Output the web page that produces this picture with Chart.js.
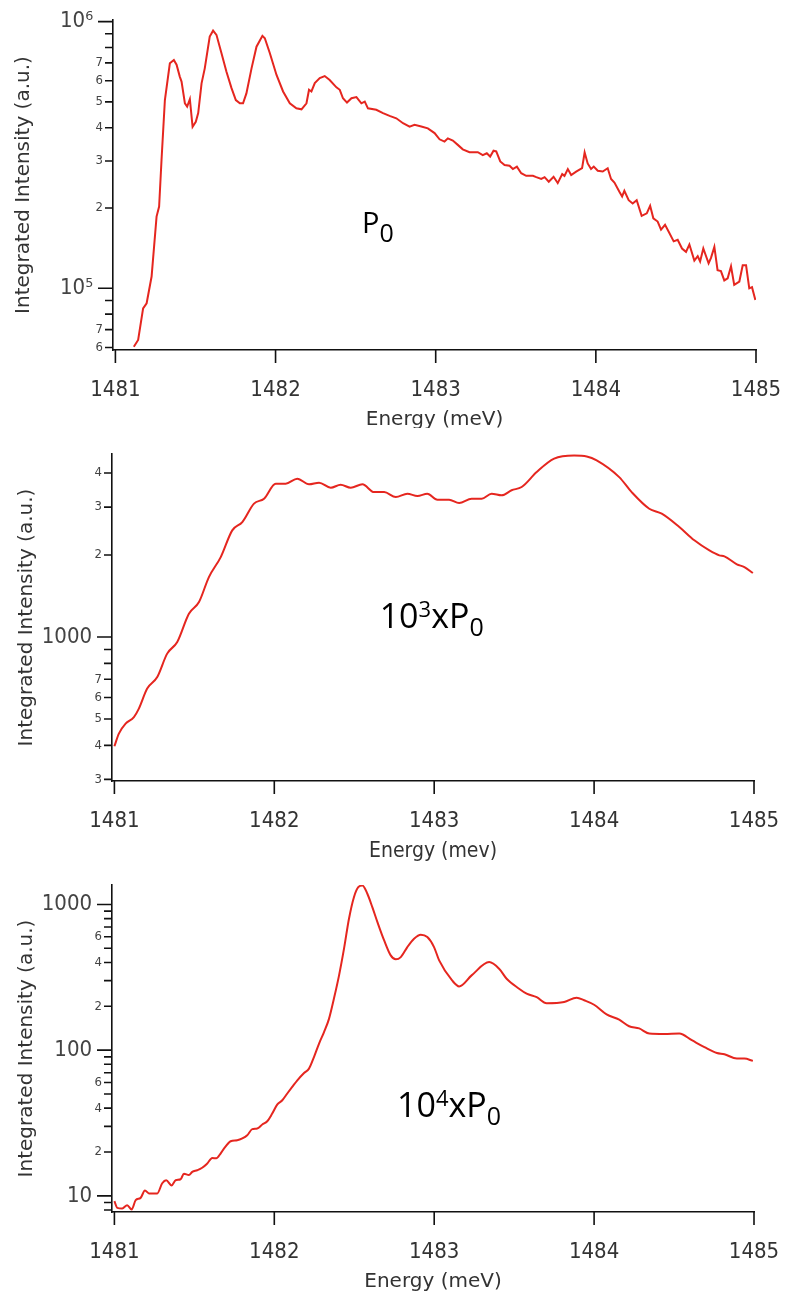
<!DOCTYPE html>
<html><head><meta charset="utf-8">
<script src="https://cdn.jsdelivr.net/npm/chart.js@4.4.1/dist/chart.umd.min.js"></script>
<style>
html,body{margin:0;padding:0;background:#fff;width:787px;height:1295px;overflow:hidden;position:relative}
canvas{position:absolute;left:0}
</style></head><body>
<canvas id="c1" width="787" height="428" style="top:0px"></canvas>
<canvas id="c2" width="787" height="440" style="top:428px"></canvas>
<canvas id="c3" width="787" height="427" style="top:868px"></canvas>
<script>
// ---------- data: P0 ----------
const energyP0 = [1481.115,1481.142,1481.173,1481.195,1481.226,1481.257,1481.273,1481.288,1481.309,1481.340,1481.365,1481.382,1481.402,1481.413,1481.434,1481.448,1481.465,1481.482,1481.502,1481.517,1481.538,1481.558,1481.589,1481.610,1481.631,1481.662,1481.693,1481.725,1481.752,1481.777,1481.797,1481.818,1481.850,1481.881,1481.918,1481.933,1481.964,1482.006,1482.047,1482.089,1482.130,1482.162,1482.193,1482.209,1482.224,1482.245,1482.276,1482.307,1482.338,1482.380,1482.401,1482.421,1482.446,1482.474,1482.505,1482.536,1482.557,1482.577,1482.629,1482.671,1482.712,1482.754,1482.796,1482.837,1482.868,1482.910,1482.951,1482.993,1483.024,1483.055,1483.076,1483.107,1483.138,1483.169,1483.211,1483.263,1483.294,1483.319,1483.340,1483.361,1483.378,1483.403,1483.430,1483.461,1483.482,1483.507,1483.534,1483.565,1483.607,1483.628,1483.659,1483.680,1483.706,1483.736,1483.762,1483.790,1483.804,1483.825,1483.846,1483.877,1483.914,1483.930,1483.949,1483.970,1483.987,1484.012,1484.043,1484.074,1484.095,1484.116,1484.147,1484.164,1484.178,1484.205,1484.230,1484.255,1484.286,1484.318,1484.339,1484.359,1484.386,1484.407,1484.432,1484.455,1484.486,1484.511,1484.538,1484.563,1484.584,1484.615,1484.636,1484.651,1484.671,1484.704,1484.719,1484.740,1484.760,1484.781,1484.802,1484.823,1484.844,1484.864,1484.896,1484.917,1484.938,1484.958,1484.975,1484.996];
const intensityP0 = [60400,64000,84100,87900,110700,185800,202500,302700,508000,698000,718000,689000,622000,596000,494000,480000,512000,403000,421000,454000,587000,668000,879000,925000,892000,763000,650000,563000,508000,494000,494000,538000,668000,805000,884000,866000,763000,631000,547000,494000,473000,469000,494000,555000,547000,588000,614000,625000,604000,567000,555000,516000,497000,516000,521000,494000,501000,473000,467000,454000,443000,434000,416000,404000,410000,404000,398000,382000,362000,355000,365000,358000,345000,332000,324000,324000,316000,321000,312000,328000,326000,299000,290000,288000,280000,286000,270000,264000,264000,261000,257000,261000,251000,262000,248000,268000,264000,280000,266000,274000,282000,323000,294000,280000,286000,276000,274000,282000,257000,249000,230000,221000,232000,214000,208000,214000,187000,191000,204000,183000,178000,166000,173000,163000,150000,152000,141000,137000,146000,127000,132000,126000,141000,124000,130000,143000,117000,116000,107000,109000,121000,103000,106000,122000,122000,100000,101000,90400];

// ---------- data: 10^3 x P0 ----------
const energy1e3 = [1481.000,1481.028,1481.070,1481.122,1481.153,1481.205,1481.268,1481.330,1481.393,1481.466,1481.529,1481.591,1481.665,1481.737,1481.800,1481.873,1481.936,1482.009,1482.071,1482.144,1482.217,1482.280,1482.353,1482.415,1482.478,1482.551,1482.624,1482.687,1482.760,1482.832,1482.895,1482.957,1483.020,1483.093,1483.156,1483.234,1483.297,1483.359,1483.422,1483.484,1483.547,1483.641,1483.750,1483.875,1483.954,1484.016,1484.157,1484.235,1484.345,1484.423,1484.533,1484.627,1484.721,1484.783,1484.815,1484.893,1484.940,1484.993];
const intensity1e3 = [397,442,481,508,546,647,713,869,959,1218,1344,1660,1966,2464,2643,3090,3222,3657,3657,3814,3637,3689,3533,3625,3533,3637,3405,3405,3266,3359,3296,3359,3193,3193,3105,3222,3222,3359,3313,3459,3555,4036,4518,4640,4603,4454,3866,3405,2959,2838,2535,2265,2080,1995,1978,1849,1807,1718];

// ---------- data: 10^4 x P0 ----------
const energy1e4 = [1481.000,1481.018,1481.049,1481.080,1481.108,1481.133,1481.164,1481.191,1481.216,1481.268,1481.299,1481.324,1481.358,1481.383,1481.414,1481.435,1481.466,1481.487,1481.518,1481.549,1481.581,1481.612,1481.637,1481.665,1481.685,1481.727,1481.768,1481.800,1481.831,1481.862,1481.893,1481.925,1481.956,1481.987,1482.019,1482.050,1482.081,1482.112,1482.144,1482.186,1482.217,1482.248,1482.280,1482.311,1482.342,1482.373,1482.405,1482.436,1482.467,1482.498,1482.525,1482.551,1482.582,1482.613,1482.645,1482.687,1482.728,1482.760,1482.791,1482.832,1482.874,1482.916,1482.957,1482.999,1483.031,1483.112,1483.156,1483.234,1483.344,1483.406,1483.453,1483.531,1483.578,1483.641,1483.703,1483.813,1483.891,1483.938,1484.000,1484.078,1484.157,1484.219,1484.282,1484.345,1484.439,1484.533,1484.611,1484.690,1484.768,1484.815,1484.893,1484.940,1484.993];
const intensity1e4 = [9.2,8.28,8.2,8.63,8.07,9.35,9.69,10.9,10.4,10.4,12.2,12.8,11.8,12.8,13.0,14.2,13.9,14.6,15.0,15.6,16.7,18.2,18.1,19.6,21.1,23.7,24.1,24.8,26.1,28.7,29.0,30.9,32.5,36.7,42.4,45.3,50.4,55.9,62.1,69.7,74.7,89.7,111,133,164,226,326,497,798,1122,1314,1349,1184,958,756,566,447,420,435,510,582,620,597,510,413,301,274,326,402,362,309,264,244,231,210,214,229,220,205,176,162,146,141,130,129,130,117,105,95.7,93.8,87.5,87.5,84.4];

// ---------- ticks ----------
const xTicks = [1481,1482,1483,1484,1485];
const xTickLabels = ['1481','1482','1483','1484','1485'];
const yTicksP0 = [1e6,9e5,8e5,7e5,6e5,5e5,4e5,3e5,2e5,1e5,9e4,8e4,7e4,6e4];
const yTickLabelsP0 = ['10\u2076','','','7','6','5','4','3','2','10\u2075','','','7','6'];
const yTicks1e3 = [4000,3000,2000,1000,900,800,700,600,500,400,300];
const yTickLabels1e3 = ['4','3','2','1000','','','7','6','5','4','3'];
const yTicks1e4 = [1000,900,800,700,600,500,400,300,200,100,90,80,70,60,50,40,30,20,10,9,8];
const yTickLabels1e4 = ['1000','','','','6','','4','','2','100','','','','6','','4','','2','10','',''];

const RED = '#e5261f';
const isDecade = v => Math.abs(Math.log10(v) - Math.round(Math.log10(v))) < 1e-9;

const tickMarks = {
  id: 'tickMarks',
  afterDraw(chart) {
    const ctx = chart.ctx, xs = chart.scales.x, ys = chart.scales.y;
    ctx.save();
    ctx.strokeStyle = '#111';
    ctx.lineWidth = 1.6;
    ctx.beginPath();
    xs.ticks.forEach(t => {
      const px = xs.getPixelForValue(t.value);
      ctx.moveTo(px, xs.top); ctx.lineTo(px, xs.top + 13);
    });
    ys.ticks.forEach(t => {
      const py = ys.getPixelForValue(t.value);
      const len = isDecade(t.value) ? 15 : 8;
      ctx.moveTo(ys.right, py); ctx.lineTo(ys.right - len, py);
    });
    ctx.stroke();
    ctx.restore();
  }
};

function makeChart(id, cfg) {
  const annot = {
    id: 'annot',
    afterDatasetsDraw(chart) {
      const ctx = chart.ctx;
      let px = chart.scales.x.getPixelForValue(cfg.annot.x);
      const py = chart.scales.y.getPixelForValue(cfg.annot.y);
      ctx.save();
      ctx.fillStyle = '#000';
      ctx.textAlign = 'left';
      ctx.textBaseline = 'alphabetic';
      cfg.annot.parts.forEach(p => {
        ctx.font = p.size + 'px "Open Sans"';
        ctx.fillText(p.text, px, py + (p.dy || 0));
        px += ctx.measureText(p.text).width;
      });
      ctx.restore();
    }
  };
  return new Chart(document.getElementById(id), {
    type: 'line',
    data: {
      datasets: [{
        data: cfg.energy.map((e, i) => ({x: e, y: cfg.intensity[i]})),
        borderColor: RED, borderWidth: 2, pointRadius: 0, fill: false,
        tension: cfg.tension, cubicInterpolationMode: cfg.tension ? 'monotone' : 'default'
      }]
    },
    options: {
      responsive: false, animation: false, devicePixelRatio: 1,
      layout: {padding: {top: cfg.top, right: cfg.right, left: 0, bottom: 0}},
      plugins: {legend: {display: false}, tooltip: {enabled: false}},
      scales: {
        x: {
          type: 'linear', min: 1480.985, max: 1485,
          afterBuildTicks: s => { s.ticks = xTicks.map(v => ({value: v})); },
          afterFit: s => { s.height = cfg.xHeight; s.paddingLeft = 0; s.paddingRight = 0; },
          ticks: {autoSkip: false, maxRotation: 0, padding: 14, color: '#333',
                  font: {family: 'DejaVu Sans Condensed', size: 22},
                  callback: (v, i) => xTickLabels[i]},
          grid: {display: true, drawOnChartArea: false, drawTicks: true, tickLength: 13, color: 'rgba(0,0,0,0)'},
          border: {display: true, color: '#111', width: 1.6},
          title: {display: true, text: cfg.xTitle, color: '#333',
                  font: {family: cfg.xTitleFamily, size: cfg.xTitleSize, lineHeight: 1},
                  padding: {top: 0, bottom: cfg.xTitlePad}}
        },
        y: {
          type: 'logarithmic', min: cfg.ymin, max: cfg.ymax,
          afterBuildTicks: s => { s.ticks = cfg.yTicks.map(v => ({value: v})); },
          afterFit: s => { s.width = cfg.yWidth; s.paddingTop = 0; s.paddingBottom = 0; },
          ticks: {autoSkip: false, padding: 2, color: '#444',
                  font: c => (c.tick && isDecade(c.tick.value))
                    ? {family: 'DejaVu Sans Condensed', size: 22}
                    : {family: 'DejaVu Sans Condensed', size: 13},
                  callback: (v, i) => cfg.yLabels[i] + (isDecade(v) ? '\u2002' : '')},
          grid: {display: true, drawOnChartArea: false, drawTicks: true, tickLength: 8, color: 'rgba(0,0,0,0)'},
          border: {display: true, color: '#111', width: 1.6},
          title: {display: true, text: 'Integrated Intensity (a.u.)', color: '#333',
                  font: {family: 'DejaVu Sans', size: 20, lineHeight: 1},
                  padding: {top: cfg.yTitlePad, bottom: 0}}
        }
      }
    },
    plugins: [tickMarks, annot]
  });
}

makeChart('c1', {
  energy: energyP0, intensity: intensityP0, tension: 0,
  top: 20, right: 31, xHeight: 78, yWidth: 113,
  ymin: 58700, ymax: 1.014e6, yTicks: yTicksP0, yLabels: yTickLabelsP0,
  xTitle: 'Energy (meV)', xTitleFamily: 'DejaVu Sans', xTitleSize: 20, xTitlePad: -2, yTitlePad: 14,
  annot: {x: 1482.54, y: 161300, parts: [{text: 'P', size: 29}, {text: '0', size: 25, dy: 9}]}
});
makeChart('c2', {
  energy: energy1e3, intensity: intensity1e3, tension: 0.4,
  top: 26, right: 33, xHeight: 87, yWidth: 112,
  ymin: 296, ymax: 4700, yTicks: yTicks1e3, yLabels: yTickLabels1e3,
  xTitle: 'Energy (mev)', xTitleFamily: 'DejaVu Sans Condensed', xTitleSize: 21, xTitlePad: 6, yTitlePad: 17,
  annot: {x: 1482.659, y: 1076, parts: [{text: '10', size: 34}, {text: '3', size: 22, dy: -11}, {text: 'xP', size: 34}, {text: '0', size: 25, dy: 8}]}
});
makeChart('c3', {
  energy: energy1e4, intensity: intensity1e4, tension: 0.4,
  top: 17, right: 33, xHeight: 83, yWidth: 112,
  ymin: 7.75, ymax: 1360, yTicks: yTicks1e4, yLabels: yTickLabels1e4,
  xTitle: 'Energy (meV)', xTitleFamily: 'DejaVu Sans', xTitleSize: 20, xTitlePad: 3, yTitlePad: 17,
  annot: {x: 1482.768, y: 34.6, parts: [{text: '10', size: 34}, {text: '4', size: 22, dy: -11}, {text: 'xP', size: 34}, {text: '0', size: 25, dy: 8}]}
});
</script>
</body></html>
